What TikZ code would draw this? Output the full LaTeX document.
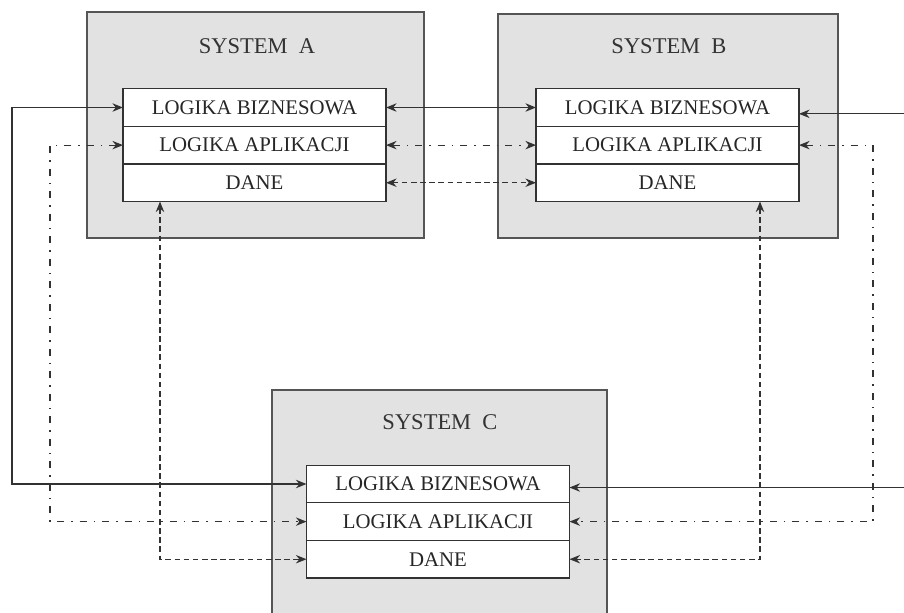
\documentclass[tikz,border=0pt]{standalone}
\usepackage{fontspec}
\setmainfont{Liberation Serif}
\usetikzlibrary{arrows.meta, positioning}
\definecolor{panel}{RGB}{226,226,226}
\definecolor{edge}{RGB}{85,85,85}
\definecolor{wire}{RGB}{50,50,50}

\begin{document}
\begin{tikzpicture}[
		x=0.025cm, y=-0.025cm,
		sys/.style={draw=edge, fill=panel, line width=0.9pt, inner sep=0pt},
		layer/.style={draw=wire, fill=white, line width=0.9pt, minimum width=6.575cm, minimum height=0.94cm, inner sep=0pt, outer sep=0pt, text=black!85, font=\fontsize{14.8}{16}\selectfont},
		title/.style={text=black!80, font=\fontsize{16}{18}\selectfont},
		arr/.style={{Stealth[length=7.5pt,width=6pt]}-{Stealth[length=7.5pt,width=6pt]}, draw=wire, line width=0.8pt},
		applink/.style={dash pattern=on 5pt off 5pt on 1pt off 5pt},
		datalink/.style={dash pattern=on 4pt off 2.5pt}
	]
		\useasboundingbox (0,0) rectangle (904,613);
		\clip (0,0) rectangle (904,613);
		\node[sys, minimum width=8.425cm, minimum height=5.65cm] (sysA) at (255.5,125) {};
		\node[sys, minimum width=8.5cm, minimum height=5.6cm] (sysB) at (668,126) {};
		\node[sys, minimum width=8.375cm, minimum height=6.25cm] (sysC) at (439.5,515) {};
		\node[title] (tA) at (257,46) {SYSTEM~ A};
		\node[title] (tB) at (669,46) {SYSTEM~ B};
		\node[title] (tC) at (440,422) {SYSTEM~ C};
		\node[layer] (bizA) at (254.5,107.5) {LOGIKA BIZNESOWA};
		\node[layer, below=0pt of bizA] (appA) {LOGIKA APLIKACJI};
		\node[layer, below=0pt of appA] (daneA) {DANE};
		\node[layer] (bizB) at (667.5,107.5) {LOGIKA BIZNESOWA};
		\node[layer, below=0pt of bizB] (appB) {LOGIKA APLIKACJI};
		\node[layer, below=0pt of appB] (daneB) {DANE};
		\node[layer] (bizC) at (438,484) {LOGIKA BIZNESOWA};
		\node[layer, below=0pt of bizC] (appC) {LOGIKA APLIKACJI};
		\node[layer, below=0pt of appC] (daneC) {DANE};
		\coordinate (leftbiz) at (12,0);
		\coordinate (leftapp) at (50,0);
		\coordinate (leftdane) at (160,0);
		\coordinate (rightbiz) at (930,0);
		\coordinate (rightapp) at (873,0);
		\coordinate (rightdane) at (760,0);
		\draw[arr] (bizA) -- (bizB);
		\draw[arr, applink] (appA) -- (appB);
		\draw[arr, datalink] (daneA) -- (daneB);
		\draw[arr] (bizA.west) -- (bizA.west -| leftbiz) |- (bizC.west);
		\draw[arr, applink] (appA.west) -- (appA.west -| leftapp) |- (appC.west);
		\draw[arr, datalink] (daneA.south -| leftdane) |- (daneC.west);
		\draw[arr] ([yshift=-4.5pt]bizB.east) -- ([yshift=-4.5pt]bizB.east -| rightbiz) |- ([yshift=-2.5pt]bizC.east);
		\draw[arr, applink] (appB.east) -- (appB.east -| rightapp) |- (appC.east);
		\draw[arr, datalink] (daneB.south -| rightdane) |- (daneC.east);
	\end{tikzpicture}
\end{document}
